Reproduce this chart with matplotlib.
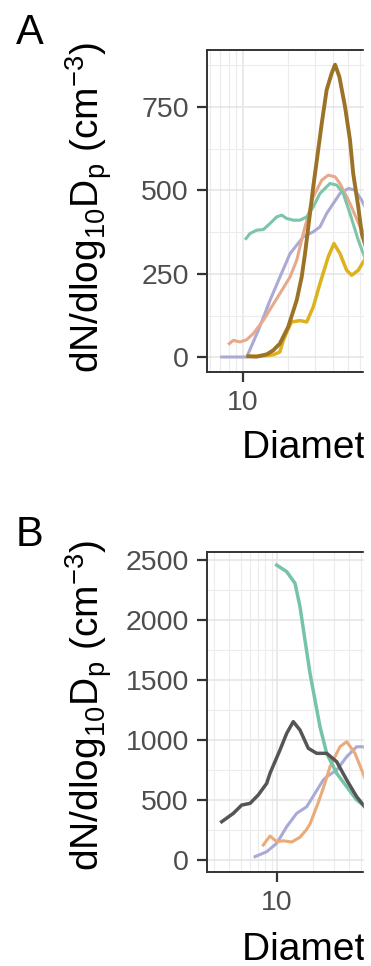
import numpy as np
import matplotlib
matplotlib.use("Agg")
import matplotlib.pyplot as plt
from matplotlib.patches import Rectangle
from matplotlib.ticker import FixedLocator, LogLocator, NullFormatter

plt.rcParams['font.family'] = ['Liberation Sans', 'DejaVu Sans']
plt.rcParams['mathtext.fontset'] = 'custom'
plt.rcParams['mathtext.rm'] = 'Liberation Sans'
plt.rcParams['mathtext.it'] = 'Liberation Sans:italic'
plt.rcParams['mathtext.default'] = 'regular'

# panel A (diameter in nm, dN/dlog10Dp in cm-3)
a_teal_d = [10.47, 11.13, 12.34, 13.66, 15.14, 16.78, 18.11, 19.56, 21.64, 23.99, 26.6, 29.4, 32.6, 38.0, 42.2, 46.6, 51.7, 58.7, 63.4, 66]
a_teal_v = [356, 371, 381, 383, 401, 421, 426, 416, 411, 411, 421, 451, 491, 521, 516, 491, 431, 351, 311, 290]
a_salmon_d = [8.1, 8.6, 9.55, 10.58, 11.71, 13.66, 17.6, 20.6, 22.8, 24.6, 25.9, 29.4, 33.5, 37.0, 41.1, 44.3, 51.7, 60.3, 65]
a_salmon_v = [41, 51, 46, 53, 71, 111, 191, 241, 291, 351, 391, 481, 531, 546, 541, 521, 461, 391, 371]
a_lav_d = [7.21, 10.58, 12.65, 15.14, 17.6, 20.6, 25.2, 29.4, 32.6, 36.1, 40.0, 44.3, 50.4, 55.7, 61.9, 65]
a_lav_v = [1, 1, 81, 171, 240, 311, 361, 376, 391, 431, 461, 491, 506, 501, 471, 451]
a_brown_d = [10.85, 12.3, 14.4, 15.9, 17.6, 20.0, 22.8, 24.6, 25.9, 29.4, 33.5, 36.1, 39.0, 41.1, 43.9, 47.9, 51.7, 54.3, 58.7, 61.9, 66]
a_brown_v = [3, 2, 9, 21, 41, 91, 171, 240, 310, 511, 701, 801, 851, 877, 841, 751, 651, 551, 451, 371, 330]
a_yellow_d = [10.85, 12.3, 14.4, 16.0, 17.6, 18.57, 20.0, 21.1, 24.0, 26.6, 29.4, 32.6, 37.0, 40.4, 44.3, 49.1, 53.1, 58.7, 63.4, 66]
a_yellow_v = [3, 3, 5, 8, 16, 51, 85, 106, 110, 106, 151, 221, 301, 341, 311, 261, 246, 261, 286, 300]

# panel B
b_grey_d = [3.46, 4.33, 5.08, 5.96, 6.98, 8.21, 8.74, 10.59, 12.05, 13.67, 15.55, 18.23, 21.42, 25.94, 31.45, 38.1, 46.1, 52.4, 56]
b_grey_v = [319, 389, 458, 472, 542, 639, 722, 917, 1056, 1153, 1083, 931, 889, 889, 819, 667, 528, 458, 420]
b_teal_d = [9.94, 12.05, 14.13, 15.55, 17.11, 18.84, 20.74, 22.82, 25.94, 31.45, 38.1, 46.1, 52.4, 56]
b_teal_v = [2458, 2403, 2306, 2111, 1833, 1556, 1333, 1111, 889, 722, 611, 500, 458, 430]
b_orange_d = [7.69, 8.74, 9.94, 11.28, 13.26, 15.55, 17.5, 18.84, 22.1, 25.1, 27.65, 33.5, 38.1, 44.7, 50.8, 56]
b_orange_v = [125, 200, 153, 160, 150, 190, 250, 300, 480, 640, 778, 944, 986, 889, 750, 640]
b_lav_d = [6.56, 8.21, 9.94, 12.05, 14.59, 17.68, 20.74, 24.3, 25.94, 31.45, 38.1, 46.1, 52.4, 56]
b_lav_v = [28, 69, 139, 278, 389, 444, 556, 667, 694, 750, 861, 944, 944, 920]

a_yticks = [0, 250, 500, 750]
b_yticks = [0, 500, 1000, 1500, 2000, 2500]

W, H = 371, 966
fig = plt.figure(figsize=(W / 100, H / 100), dpi=100)


def px_axes(left, top, right, bottom):
    return fig.add_axes([left / W, 1 - bottom / H, (right - left) / W, (bottom - top) / H])


def style(ax, xlim, ylim, yticks, ystep):
    ax.set_xscale('log')
    ax.set_xlim(*xlim)
    ax.set_ylim(*ylim)
    ax.xaxis.set_major_locator(FixedLocator([1, 10, 100, 1000]))
    ax.xaxis.set_minor_locator(LogLocator(base=10, subs=range(2, 10)))
    ax.xaxis.set_minor_formatter(NullFormatter())
    ax.set_xticklabels(['1', '10', '100', '1000'])
    ax.set_yticks(yticks)
    ax.yaxis.set_minor_locator(FixedLocator([t + ystep / 2 for t in [-yticks[1]] + yticks]))
    ax.grid(True, which='major', color='#E4E4E4', lw=1.1, zorder=0)
    ax.grid(True, which='minor', color='#ECECEC', lw=0.8, zorder=0)
    ax.set_axisbelow(True)
    for s in ['left', 'top', 'bottom']:
        ax.spines[s].set_color('#333333')
        ax.spines[s].set_linewidth(1.4)
    ax.spines['right'].set_visible(False)
    ax.tick_params(which='major', length=7, width=1.6, color='#333333',
                   labelsize=20.5, labelcolor='#4D4D4D', pad=6)
    ax.tick_params(which='minor', length=0)


axA = px_axes(207, 50, 364, 372)
axA.plot(a_lav_d, a_lav_v, color='#ABAAD4', lw=2.2)
axA.plot(a_salmon_d, a_salmon_v, color='#E8A88C', lw=2.2)
axA.plot(a_teal_d, a_teal_v, color='#7CC5A9', lw=2.2)
axA.plot(a_yellow_d, a_yellow_v, color='#DDB21C', lw=2.5)
axA.plot(a_brown_d, a_brown_v, color='#9C7326', lw=2.8)
style(axA, (5.75, 64.1), (-44, 921), a_yticks, 250)

axB = px_axes(207, 552, 364, 872)
axB.plot(b_lav_d, b_lav_v, color='#A9AAD6', lw=2.2)
axB.plot(b_orange_d, b_orange_v, color='#EBAA7A', lw=2.2)
axB.plot(b_teal_d, b_teal_v, color='#76C4A6', lw=2.5)
axB.plot(b_grey_d, b_grey_v, color='#555555', lw=2.5)
style(axB, (2.61, 53.1), (-100, 2567), b_yticks, 500)

ylab = r'dN/dlog$_{10}$D$_p$ (cm$^{-3}$)'
fig.text(88.5 / W, 1 - 207.5 / H, ylab, rotation=90, ha='center', va='center', fontsize=28)
fig.text(88.5 / W, 1 - 706 / H, ylab, rotation=90, ha='center', va='center', fontsize=28)
fig.text(242 / W, 1 - 458 / H, 'Diameter (nm)', ha='left', va='baseline', fontsize=28)
fig.text(242 / W, 1 - 960 / H, 'Diameter (nm)', ha='left', va='baseline', fontsize=28)
fig.text(16 / W, 1 - 44 / H, 'A', ha='left', va='baseline', fontsize=30)
fig.text(16 / W, 1 - 546 / H, 'B', ha='left', va='baseline', fontsize=30)

# the original picture is cut at the right edge
fig.patches.append(Rectangle((364 / W, 0), 1, 1, transform=fig.transFigure,
                             color='white', zorder=10))

fig.savefig('out.png', dpi=100)
